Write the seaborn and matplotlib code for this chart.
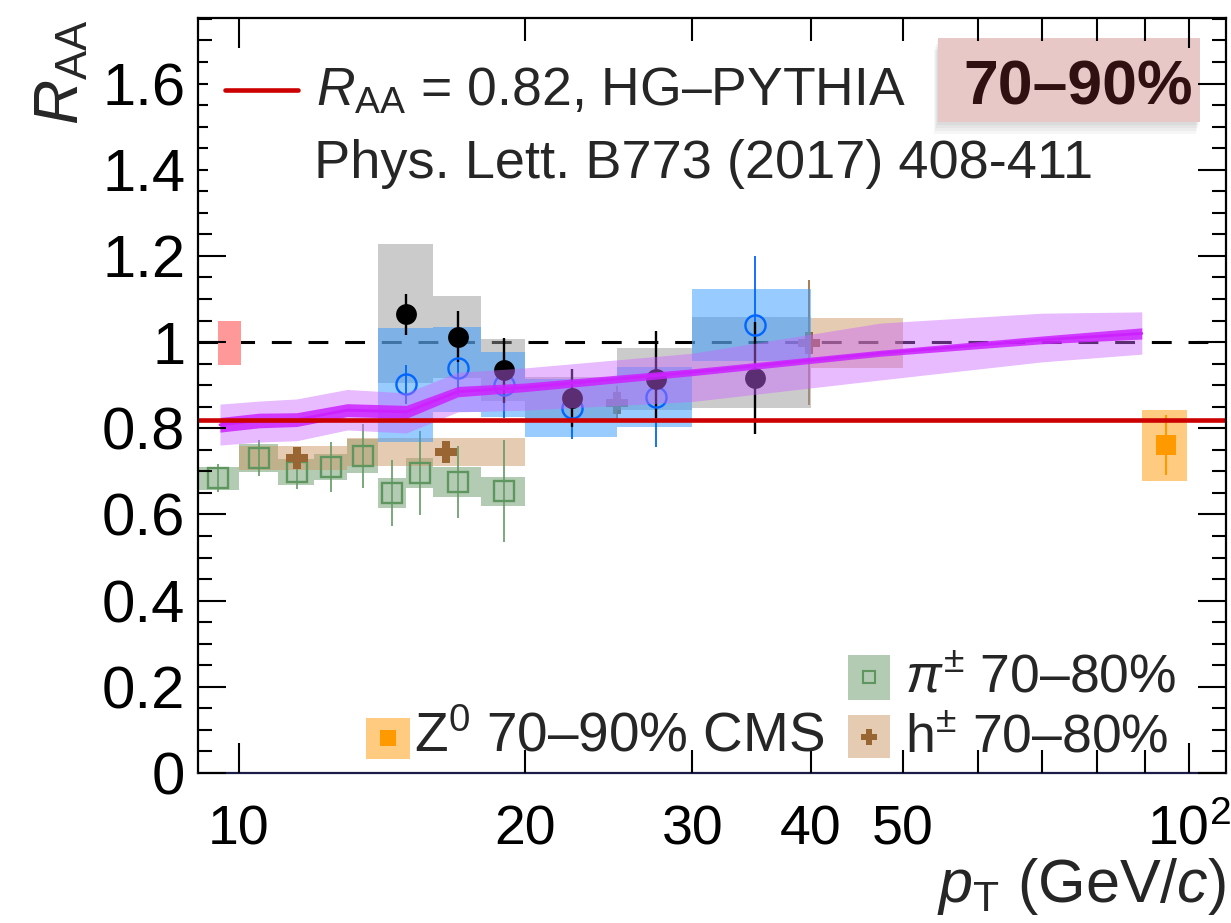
import numpy as np
import matplotlib
matplotlib.use('Agg')
import matplotlib.pyplot as plt
from matplotlib.patches import Rectangle
from matplotlib.ticker import FixedLocator, FixedFormatter, MultipleLocator, FuncFormatter
import seaborn as sns

# ---------------- data ----------------
# pi+- 70-80%
pion_x = [9.5, 10.5, 11.5, 12.5, 13.5, 14.5, 15.5, 17.0, 19.0]
pion_bin_lo = [9, 10, 11, 12, 13, 14, 15, 16, 18]
pion_bin_hi = [10, 11, 12, 13, 14, 15, 16, 18, 20]
pion_y = [0.684, 0.731, 0.698, 0.710, 0.736, 0.650, 0.696, 0.675, 0.654]
pion_stat = [0.032, 0.042, 0.038, 0.058, 0.074, 0.076, 0.098, 0.083, 0.119]
pion_sys = [0.027, 0.032, 0.030, 0.030, 0.040, 0.034, 0.035, 0.035, 0.034]

# h+- 70-80%
had_x = [11.5, 16.5, 25.0, 39.8]
had_bin_lo = [10, 13, 20, 40]
had_bin_hi = [13, 20, 30, 50]
had_y = [0.731, 0.745, 0.858, 0.998]
had_stat = [0.010, 0.010, 0.041, 0.145]
had_sys = [0.027, 0.032, 0.000, 0.059]

# filled black points (grey boxes)
blk_x = [15.0, 17.0, 19.0, 22.4, 27.5, 34.9]
blk_bin_lo = [14, 16, 18, 20, 25, 30]
blk_bin_hi = [16, 18, 20, 25, 30, 40]
blk_y = [1.065, 1.012, 0.935, 0.870, 0.914, 0.916]
blk_stat_lo = [1.016, 0.954, 0.858, 0.803, 0.824, 0.787]
blk_stat_hi = [1.111, 1.072, 1.009, 0.937, 1.026, 1.046]
blk_sys_lo = [0.905, 0.916, 0.863, 0.820, 0.842, 0.847]
blk_sys_hi = [1.227, 1.107, 1.007, 0.920, 0.986, 1.058]

# open blue points (blue boxes)
blu_y = [0.903, 0.940, 0.900, 0.847, 0.873, 1.040]
blu_stat_lo = [0.856, 0.877, 0.824, 0.775, 0.756, 0.880]
blu_stat_hi = [0.947, 0.963, 0.976, 0.920, 0.990, 1.200]
blu_sys_lo = [0.768, 0.838, 0.826, 0.780, 0.803, 0.957]
blu_sys_hi = [1.032, 1.035, 0.977, 0.914, 0.943, 1.123]

# Z0 70-90% CMS
z_x = [94.5]
z_y = [0.761]
z_stat = [0.070]
z_bin_lo = [89.2]
z_bin_hi = [99.5]
z_sys_lo = [0.677]
z_sys_hi = [0.842]

# normalisation box
norm_x = [9.5, 10.05]
norm_y = [0.947, 1.049]

# HG-PYTHIA model band
th_x = [9.55, 10.5, 11.5, 13.0, 15.0, 17.0, 20.0, 30.0, 47.3, 70.0, 89.2]
th_c = [0.808, 0.818, 0.820, 0.842, 0.838, 0.885, 0.895, 0.930, 0.974, 1.005, 1.020]
th_lo = [0.761, 0.768, 0.771, 0.796, 0.789, 0.838, 0.842, 0.862, 0.912, 0.954, 0.972]
th_hi = [0.856, 0.863, 0.868, 0.890, 0.882, 0.930, 0.940, 0.974, 1.044, 1.067, 1.070]
th_w = [0.017, 0.017, 0.016, 0.015, 0.015, 0.012, 0.010, 0.008, 0.007, 0.009, 0.013]

raa_const = 0.82

y_ticks = [0, 0.2, 0.4, 0.6, 0.8, 1.0, 1.2, 1.4, 1.6]
x_major = [10, 100]
x_major_labels = ['10', r'$10^{2}$']
x_minor = [20, 30, 40, 50, 60, 70, 80, 90]
x_minor_labels = ['20', '30', '40', '50', '', '', '', '']

# ---------------- style ----------------
sns.set_theme(style='ticks')
plt.rcParams['font.family'] = ['Liberation Sans', 'DejaVu Sans']
plt.rcParams['mathtext.fontset'] = 'custom'
plt.rcParams['mathtext.rm'] = 'Liberation Sans'
plt.rcParams['mathtext.it'] = 'Liberation Sans:italic'
plt.rcParams['mathtext.bf'] = 'Liberation Sans:bold'

W, H = 1231, 923
fig = plt.figure(figsize=(W / 100, H / 100), dpi=100)
AX_L, AX_R, AX_B, AX_T = 198, 1226, 773, 18
ax = fig.add_axes([AX_L / W, (H - AX_B) / H, (AX_R - AX_L) / W, (AX_B - AX_T) / H])
ax.set_facecolor('white')
ax.set_xscale('log')
ax.set_xlim(9.055, 109.4)
ax.set_ylim(0, 1.752)


def fx(px):
    return (px - AX_L) / (AX_R - AX_L)


def fy(py):
    return (AX_B - py) / (AX_B - AX_T)


def boxes(lo_edge, hi_edge, ylo, yhi, color, alpha, z):
    lo_edge = np.asarray(lo_edge, float)
    hi_edge = np.asarray(hi_edge, float)
    ylo = np.asarray(ylo, float)
    yhi = np.asarray(yhi, float)
    ax.bar(lo_edge, yhi - ylo, width=hi_edge - lo_edge, bottom=ylo, align='edge',
           color=color, alpha=alpha, linewidth=0, zorder=z)


# reference lines
ax.axhline(1.0, color='black', lw=2.2, dashes=(6.5, 5.5), zorder=1)

# normalisation box
boxes([norm_x[0]], [norm_x[1]], [norm_y[0]], [norm_y[1]], '#ff9999', 1.0, 1.5)

# pion / hadron boxes
py_ = np.array(pion_y); ps = np.array(pion_sys)
boxes(pion_bin_lo, pion_bin_hi, py_ - ps, py_ + ps, '#669966', 0.5, 2.0)
hy = np.array(had_y); hs = np.array(had_sys)
boxes(had_bin_lo, had_bin_hi, hy - hs, hy + hs, '#cc9966', 0.5, 2.0)

ax.errorbar(pion_x, pion_y, yerr=pion_stat, fmt='none', ecolor='#669966', elinewidth=1.2, capsize=0, zorder=2.1)
ax.plot(pion_x, pion_y, ls='none', marker='s', ms=14.5, mfc='none', mec='#5f965f', mew=1.7, zorder=2.2)
ax.errorbar(had_x, had_y, yerr=had_stat, fmt='none', ecolor='#996633', elinewidth=1.2, capsize=0, zorder=2.2)
sns.scatterplot(x=had_x, y=had_y, marker='P', s=16 ** 2, color='#996633', linewidth=0, zorder=2.3, ax=ax, legend=False)

# Z0
boxes(z_bin_lo, z_bin_hi, z_sys_lo, z_sys_hi, '#ffcb80', 1.0, 2.0)
ax.errorbar(z_x, z_y, yerr=z_stat, fmt='none', ecolor='#ff9900', elinewidth=1.5, capsize=0, zorder=2.4)
sns.scatterplot(x=z_x, y=z_y, marker='s', s=14.5 ** 2, color='#ff9900', linewidth=0, zorder=2.5, ax=ax, legend=False)

# grey & blue boxes
boxes(blk_bin_lo, blk_bin_hi, blk_sys_lo, blk_sys_hi, '#999999', 0.5, 2.6)
boxes(blk_bin_lo, blk_bin_hi, blu_sys_lo, blu_sys_hi, '#3399ff', 0.5, 2.7)

by = np.array(blk_y)
ax.errorbar(blk_x, blk_y, yerr=[by - np.array(blk_stat_lo), np.array(blk_stat_hi) - by], fmt='none',
            ecolor='black', elinewidth=1.7, capsize=0, zorder=3.0)
sns.scatterplot(x=blk_x, y=blk_y, marker='o', s=15 ** 2, color='black', linewidth=0, zorder=3.1, ax=ax, legend=False)
bu = np.array(blu_y)
ax.errorbar(blk_x, blu_y, yerr=[bu - np.array(blu_stat_lo), np.array(blu_stat_hi) - bu], fmt='none',
            ecolor='#0066ff', elinewidth=1.3, capsize=0, zorder=2.95)
ax.plot(blk_x, blu_y, ls='none', marker='o', ms=14.5, mfc='none', mec='#0066ff', mew=1.7, zorder=3.05)

# model band
tc = np.array(th_c); tw = np.array(th_w)
ax.fill_between(th_x, th_lo, th_hi, color='#cc66ff', alpha=0.45, linewidth=0, zorder=4)
ax.fill_between(th_x, tc - tw, tc + tw, color='#cc22ff', alpha=0.85, linewidth=0, zorder=4.1)
sns.lineplot(x=th_x, y=th_c, color='#cc22ff', lw=2, zorder=4.2, ax=ax, legend=False)

# constant RAA
ax.axhline(raa_const, color='#cc0000', lw=3.3, zorder=5)

# ---------------- axes ----------------
ax.xaxis.set_major_locator(FixedLocator(x_major))
ax.xaxis.set_major_formatter(FixedFormatter(x_major_labels))
ax.xaxis.set_minor_locator(FixedLocator(x_minor))
ax.xaxis.set_minor_formatter(FixedFormatter(x_minor_labels))
ax.yaxis.set_major_locator(FixedLocator(y_ticks))
ax.yaxis.set_major_formatter(FuncFormatter(lambda v, p: ('%d' % round(v)) if abs(v - round(v)) < 1e-9 else ('%.1f' % v)))
ax.yaxis.set_minor_locator(MultipleLocator(0.05))

ax.tick_params(axis='both', which='both', direction='in', colors='black', width=1.5,
               top=True, right=True)
ax.tick_params(axis='y', which='both', labelsize=43)
ax.tick_params(axis='x', which='both', labelsize=40)
ax.tick_params(axis='x', which='major', length=21.5, pad=23)
ax.tick_params(axis='x', which='minor', length=16.5, pad=23)
ax.tick_params(axis='y', which='major', length=20.5, pad=9)
ax.tick_params(axis='y', which='minor', length=10)
for s in ax.spines.values():
    s.set_color('black')
    s.set_linewidth(1.6)
    s.set_zorder(6)
ax.spines['bottom'].set_color('#1c1c48')
ax.xaxis.set_zorder(6)
ax.yaxis.set_zorder(6)
ax.grid(False)

# white legend area covering top-left ticks
ax.add_patch(Rectangle((fx(208), fy(232)), fx(930) - fx(208), fy(58) - fy(232), transform=ax.transAxes,
                       facecolor='white', edgecolor='none', zorder=6.5))

# top legend
ax.plot([fx(225), fx(298)], [fy(90), fy(90)], transform=ax.transAxes, color='#cc0000', lw=3.3,
        zorder=7, clip_on=False)
ax.text(fx(316), fy(106), r'$R_{\rm AA}$ = 0.82, HG–PYTHIA', transform=ax.transAxes, ha='left',
        va='baseline', fontsize=38.5, zorder=7)
ax.text(fx(314), fy(178), 'Phys. Lett. B773 (2017) 408-411', transform=ax.transAxes, ha='left',
        va='baseline', fontsize=39, zorder=7)

# centrality box with soft shadow
for k in range(4):
    off = 3 * (k + 1)
    ax.add_patch(Rectangle((fx(938 - off / 3), fy(122 + off)), fx(1200) - fx(938), fy(38) - fy(122),
                           transform=ax.transAxes, facecolor='black', alpha=0.035, edgecolor='none', zorder=5.4))
ax.add_patch(Rectangle((fx(938), fy(122)), fx(1200) - fx(938), fy(38) - fy(122), transform=ax.transAxes,
                       facecolor='#e8c8c6', edgecolor='none', zorder=5.5))
ax.text(fx(1078), fy(105), '70–90%', transform=ax.transAxes, ha='center', va='baseline',
        fontsize=45, fontweight='bold', color='#301010', zorder=7)

# bottom legend
ax.add_patch(Rectangle((fx(848), fy(700)), fx(890) - fx(848), fy(655) - fy(700), transform=ax.transAxes,
                       facecolor='#669966', alpha=0.5, edgecolor='none', zorder=7))
ax.plot([fx(869)], [fy(677)], transform=ax.transAxes, marker='s', ms=9, mfc='none', mec='#5f965f', mew=1.5,
        ls='none', zorder=7.1, clip_on=False)
ax.text(fx(905), fy(692), r'$\pi^{\pm}$ 70–80%', transform=ax.transAxes, ha='left', va='baseline',
        fontsize=38.5, zorder=7)

ax.add_patch(Rectangle((fx(848), fy(758)), fx(890) - fx(848), fy(715) - fy(758), transform=ax.transAxes,
                       facecolor='#cc9966', alpha=0.5, edgecolor='none', zorder=7))
ax.plot([fx(869)], [fy(737)], transform=ax.transAxes, marker='P', ms=11, color='#996633', mew=0,
        ls='none', zorder=7.1, clip_on=False)
ax.text(fx(905), fy(752), r'h$^{\pm}$ 70–80%', transform=ax.transAxes, ha='left', va='baseline',
        fontsize=38.5, zorder=7)

ax.add_patch(Rectangle((fx(366), fy(759)), fx(410) - fx(366), fy(718) - fy(759), transform=ax.transAxes,
                       facecolor='#ffcb80', edgecolor='none', zorder=7))
ax.plot([fx(388)], [fy(738)], transform=ax.transAxes, marker='s', ms=11, color='#ff9900', mew=0,
        ls='none', zorder=7.1, clip_on=False)
ax.text(fx(414), fy(752), r'Z$^{0}$ 70–90% CMS', transform=ax.transAxes, ha='left', va='baseline',
        fontsize=39.5, zorder=7)

# axis titles
fig.text(62 / W, 1 - 20 / H, r'$R_{\rm AA}$', rotation=90, ha='center', va='top', fontsize=45)
fig.text(1226 / W, 1 - 902 / H, r'$p_{\rm T}$ (GeV/$c$)', ha='right', va='baseline', fontsize=44)

fig.savefig('out.png', dpi=100)
